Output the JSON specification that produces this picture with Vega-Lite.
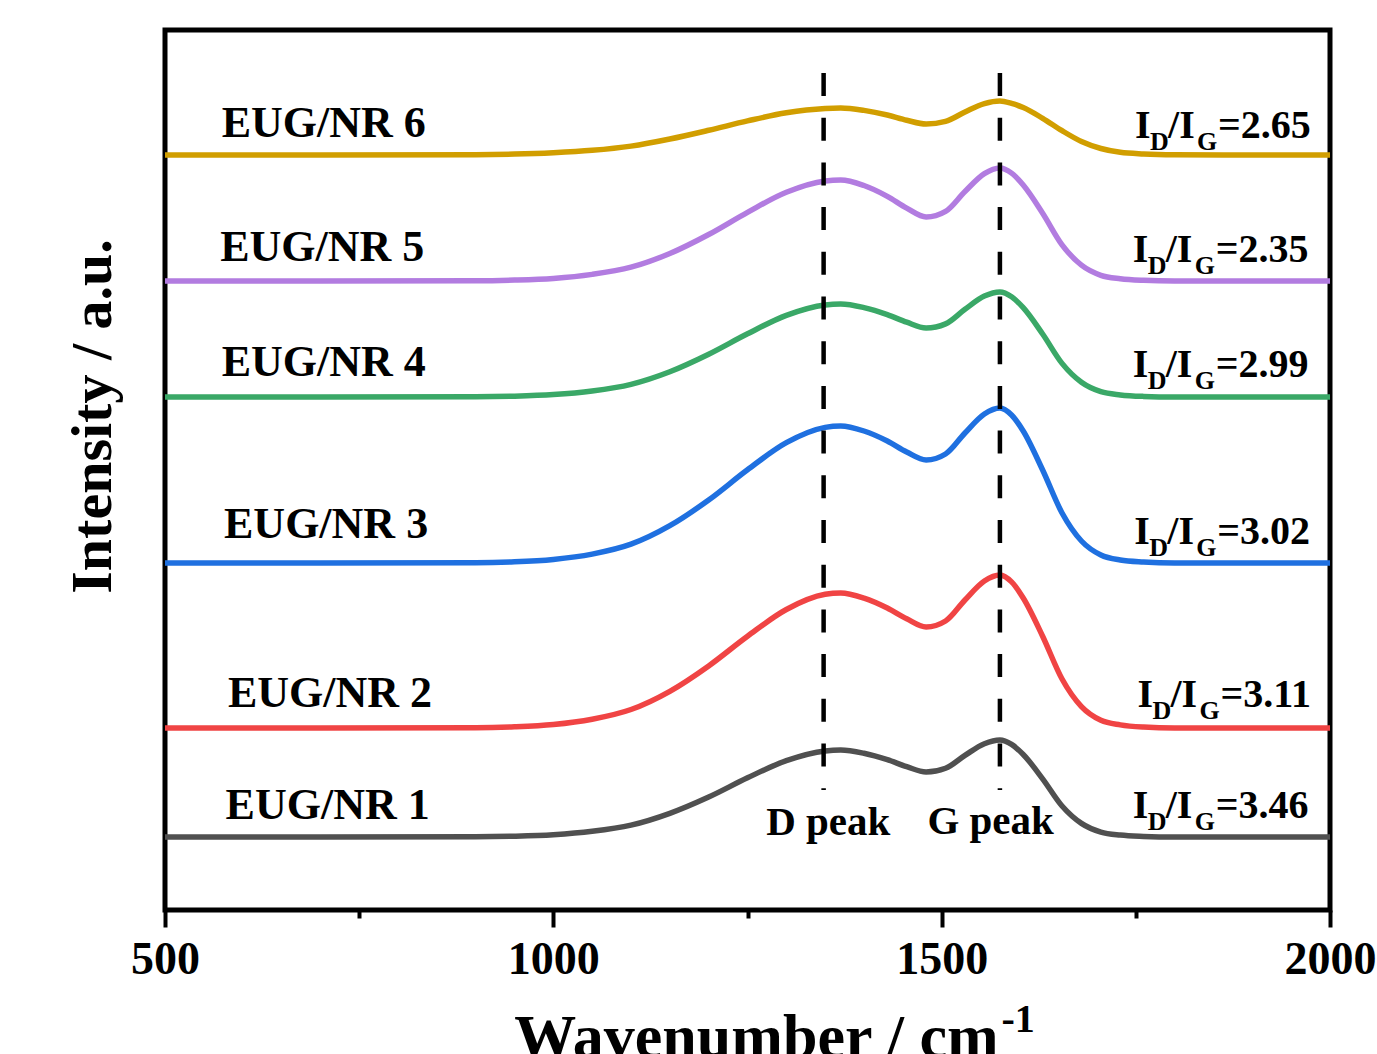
{
  "$schema": "https://vega.github.io/schema/vega-lite/v6.json",
  "width": 1165,
  "height": 880,
  "autosize": {"type": "none"},
  "padding": {"left": 165, "top": 30, "right": 47, "bottom": 144},
  "background": "white",
  "datasets": {
    "spectra": [
      {"s":"EUG/NR 1","w":500,"v":74},{"s":"EUG/NR 1","w":700,"v":74},{"s":"EUG/NR 1","w":900,"v":74.2},{"s":"EUG/NR 1","w":950,"v":74.8},{"s":"EUG/NR 1","w":1000,"v":76.3},{"s":"EUG/NR 1","w":1050,"v":79.7},{"s":"EUG/NR 1","w":1100,"v":85.9},{"s":"EUG/NR 1","w":1150,"v":97.7},{"s":"EUG/NR 1","w":1200,"v":114},{"s":"EUG/NR 1","w":1250,"v":133.2},{"s":"EUG/NR 1","w":1300,"v":150.4},{"s":"EUG/NR 1","w":1350,"v":160.1},{"s":"EUG/NR 1","w":1370,"v":161},{"s":"EUG/NR 1","w":1400,"v":157.7},{"s":"EUG/NR 1","w":1430,"v":151.3},{"s":"EUG/NR 1","w":1455,"v":144.3},{"s":"EUG/NR 1","w":1480,"v":139},{"s":"EUG/NR 1","w":1505,"v":142.7},{"s":"EUG/NR 1","w":1530,"v":155.6},{"s":"EUG/NR 1","w":1555,"v":167.3},{"s":"EUG/NR 1","w":1575,"v":171},{"s":"EUG/NR 1","w":1590,"v":166.6},{"s":"EUG/NR 1","w":1605,"v":156.5},{"s":"EUG/NR 1","w":1630,"v":132.2},{"s":"EUG/NR 1","w":1655,"v":105},{"s":"EUG/NR 1","w":1680,"v":87.6},{"s":"EUG/NR 1","w":1705,"v":78.9},{"s":"EUG/NR 1","w":1730,"v":75.9},{"s":"EUG/NR 1","w":1760,"v":74.6},{"s":"EUG/NR 1","w":1800,"v":74},{"s":"EUG/NR 1","w":1900,"v":74},{"s":"EUG/NR 1","w":2000,"v":74},
      {"s":"EUG/NR 2","w":500,"v":183},{"s":"EUG/NR 2","w":700,"v":183},{"s":"EUG/NR 2","w":900,"v":183.3},{"s":"EUG/NR 2","w":950,"v":184.2},{"s":"EUG/NR 2","w":1000,"v":186.5},{"s":"EUG/NR 2","w":1050,"v":191.8},{"s":"EUG/NR 2","w":1100,"v":201.5},{"s":"EUG/NR 2","w":1150,"v":219.7},{"s":"EUG/NR 2","w":1200,"v":245.1},{"s":"EUG/NR 2","w":1250,"v":274.8},{"s":"EUG/NR 2","w":1300,"v":301.5},{"s":"EUG/NR 2","w":1350,"v":316.7},{"s":"EUG/NR 2","w":1370,"v":318},{"s":"EUG/NR 2","w":1400,"v":312.9},{"s":"EUG/NR 2","w":1430,"v":303},{"s":"EUG/NR 2","w":1455,"v":292.2},{"s":"EUG/NR 2","w":1480,"v":284},{"s":"EUG/NR 2","w":1505,"v":290},{"s":"EUG/NR 2","w":1530,"v":311},{"s":"EUG/NR 2","w":1555,"v":330},{"s":"EUG/NR 2","w":1575,"v":336},{"s":"EUG/NR 2","w":1590,"v":329.1},{"s":"EUG/NR 2","w":1605,"v":313},{"s":"EUG/NR 2","w":1630,"v":274.8},{"s":"EUG/NR 2","w":1655,"v":232},{"s":"EUG/NR 2","w":1680,"v":204.4},{"s":"EUG/NR 2","w":1705,"v":190.7},{"s":"EUG/NR 2","w":1730,"v":186.1},{"s":"EUG/NR 2","w":1760,"v":183.9},{"s":"EUG/NR 2","w":1800,"v":183},{"s":"EUG/NR 2","w":1900,"v":183},{"s":"EUG/NR 2","w":2000,"v":183},
      {"s":"EUG/NR 3","w":500,"v":348},{"s":"EUG/NR 3","w":700,"v":348},{"s":"EUG/NR 3","w":900,"v":348.3},{"s":"EUG/NR 3","w":950,"v":349.2},{"s":"EUG/NR 3","w":1000,"v":351.6},{"s":"EUG/NR 3","w":1050,"v":356.9},{"s":"EUG/NR 3","w":1100,"v":366.8},{"s":"EUG/NR 3","w":1150,"v":385.3},{"s":"EUG/NR 3","w":1200,"v":411},{"s":"EUG/NR 3","w":1250,"v":441.2},{"s":"EUG/NR 3","w":1300,"v":468.3},{"s":"EUG/NR 3","w":1350,"v":483.6},{"s":"EUG/NR 3","w":1370,"v":485},{"s":"EUG/NR 3","w":1400,"v":480},{"s":"EUG/NR 3","w":1430,"v":470},{"s":"EUG/NR 3","w":1455,"v":459},{"s":"EUG/NR 3","w":1480,"v":451},{"s":"EUG/NR 3","w":1505,"v":457},{"s":"EUG/NR 3","w":1530,"v":478},{"s":"EUG/NR 3","w":1555,"v":497},{"s":"EUG/NR 3","w":1575,"v":503},{"s":"EUG/NR 3","w":1590,"v":496},{"s":"EUG/NR 3","w":1605,"v":480},{"s":"EUG/NR 3","w":1630,"v":441},{"s":"EUG/NR 3","w":1655,"v":398},{"s":"EUG/NR 3","w":1680,"v":370},{"s":"EUG/NR 3","w":1705,"v":356},{"s":"EUG/NR 3","w":1730,"v":351},{"s":"EUG/NR 3","w":1760,"v":349},{"s":"EUG/NR 3","w":1800,"v":348},{"s":"EUG/NR 3","w":1900,"v":348},{"s":"EUG/NR 3","w":2000,"v":348},
      {"s":"EUG/NR 4","w":500,"v":514},{"s":"EUG/NR 4","w":700,"v":514},{"s":"EUG/NR 4","w":900,"v":514.2},{"s":"EUG/NR 4","w":950,"v":514.8},{"s":"EUG/NR 4","w":1000,"v":516.4},{"s":"EUG/NR 4","w":1050,"v":520},{"s":"EUG/NR 4","w":1100,"v":526.7},{"s":"EUG/NR 4","w":1150,"v":539.3},{"s":"EUG/NR 4","w":1200,"v":556.8},{"s":"EUG/NR 4","w":1250,"v":577.2},{"s":"EUG/NR 4","w":1300,"v":595.7},{"s":"EUG/NR 4","w":1350,"v":606.1},{"s":"EUG/NR 4","w":1370,"v":607},{"s":"EUG/NR 4","w":1400,"v":603.4},{"s":"EUG/NR 4","w":1430,"v":596.4},{"s":"EUG/NR 4","w":1455,"v":588.8},{"s":"EUG/NR 4","w":1480,"v":583},{"s":"EUG/NR 4","w":1505,"v":587.1},{"s":"EUG/NR 4","w":1530,"v":601.7},{"s":"EUG/NR 4","w":1555,"v":614.9},{"s":"EUG/NR 4","w":1575,"v":619},{"s":"EUG/NR 4","w":1590,"v":614.3},{"s":"EUG/NR 4","w":1605,"v":603.3},{"s":"EUG/NR 4","w":1630,"v":577},{"s":"EUG/NR 4","w":1655,"v":547.6},{"s":"EUG/NR 4","w":1680,"v":528.7},{"s":"EUG/NR 4","w":1705,"v":519.3},{"s":"EUG/NR 4","w":1730,"v":516.1},{"s":"EUG/NR 4","w":1760,"v":514.6},{"s":"EUG/NR 4","w":1800,"v":514},{"s":"EUG/NR 4","w":1900,"v":514},{"s":"EUG/NR 4","w":2000,"v":514},
      {"s":"EUG/NR 5","w":500,"v":630},{"s":"EUG/NR 5","w":700,"v":630},{"s":"EUG/NR 5","w":900,"v":630.2},{"s":"EUG/NR 5","w":950,"v":630.9},{"s":"EUG/NR 5","w":1000,"v":632.6},{"s":"EUG/NR 5","w":1050,"v":636.6},{"s":"EUG/NR 5","w":1100,"v":643.8},{"s":"EUG/NR 5","w":1150,"v":657.5},{"s":"EUG/NR 5","w":1200,"v":676.5},{"s":"EUG/NR 5","w":1250,"v":698.7},{"s":"EUG/NR 5","w":1300,"v":718.7},{"s":"EUG/NR 5","w":1350,"v":730},{"s":"EUG/NR 5","w":1370,"v":731},{"s":"EUG/NR 5","w":1400,"v":725.5},{"s":"EUG/NR 5","w":1430,"v":714.7},{"s":"EUG/NR 5","w":1455,"v":702.9},{"s":"EUG/NR 5","w":1480,"v":694},{"s":"EUG/NR 5","w":1505,"v":699.6},{"s":"EUG/NR 5","w":1530,"v":719.5},{"s":"EUG/NR 5","w":1555,"v":737.4},{"s":"EUG/NR 5","w":1575,"v":743},{"s":"EUG/NR 5","w":1590,"v":737.9},{"s":"EUG/NR 5","w":1605,"v":726},{"s":"EUG/NR 5","w":1630,"v":697.8},{"s":"EUG/NR 5","w":1655,"v":666.2},{"s":"EUG/NR 5","w":1680,"v":645.8},{"s":"EUG/NR 5","w":1705,"v":635.7},{"s":"EUG/NR 5","w":1730,"v":632.3},{"s":"EUG/NR 5","w":1760,"v":630.7},{"s":"EUG/NR 5","w":1800,"v":630},{"s":"EUG/NR 5","w":1900,"v":630},{"s":"EUG/NR 5","w":2000,"v":630},
      {"s":"EUG/NR 6","w":500,"v":756},{"s":"EUG/NR 6","w":700,"v":756},{"s":"EUG/NR 6","w":900,"v":756.3},{"s":"EUG/NR 6","w":950,"v":756.9},{"s":"EUG/NR 6","w":1000,"v":758.3},{"s":"EUG/NR 6","w":1050,"v":760.7},{"s":"EUG/NR 6","w":1100,"v":764.9},{"s":"EUG/NR 6","w":1150,"v":772},{"s":"EUG/NR 6","w":1200,"v":780.7},{"s":"EUG/NR 6","w":1250,"v":790.1},{"s":"EUG/NR 6","w":1300,"v":798.2},{"s":"EUG/NR 6","w":1350,"v":802.5},{"s":"EUG/NR 6","w":1370,"v":803},{"s":"EUG/NR 6","w":1400,"v":800.6},{"s":"EUG/NR 6","w":1430,"v":796},{"s":"EUG/NR 6","w":1455,"v":790.8},{"s":"EUG/NR 6","w":1480,"v":787},{"s":"EUG/NR 6","w":1505,"v":789.6},{"s":"EUG/NR 6","w":1530,"v":799},{"s":"EUG/NR 6","w":1555,"v":807.4},{"s":"EUG/NR 6","w":1575,"v":810},{"s":"EUG/NR 6","w":1590,"v":807.6},{"s":"EUG/NR 6","w":1605,"v":803.5},{"s":"EUG/NR 6","w":1630,"v":792.7},{"s":"EUG/NR 6","w":1655,"v":780.3},{"s":"EUG/NR 6","w":1680,"v":769.5},{"s":"EUG/NR 6","w":1705,"v":762.5},{"s":"EUG/NR 6","w":1730,"v":758.7},{"s":"EUG/NR 6","w":1760,"v":757.1},{"s":"EUG/NR 6","w":1800,"v":756.3},{"s":"EUG/NR 6","w":1900,"v":756},{"s":"EUG/NR 6","w":2000,"v":756}
    ],
    "names": [
      {"t":"EUG/NR 6","w":573,"v":774},
      {"t":"EUG/NR 5","w":571,"v":650},
      {"t":"EUG/NR 4","w":573,"v":535},
      {"t":"EUG/NR 3","w":576,"v":373},
      {"t":"EUG/NR 2","w":581,"v":204},
      {"t":"EUG/NR 1","w":578,"v":92}
    ],
    "ratios": [
      {"r":"=2.65","w":1749,"v":773},
      {"r":"=2.35","w":1746,"v":649},
      {"r":"=2.99","w":1746,"v":534},
      {"r":"=3.02","w":1748,"v":367},
      {"r":"=3.11","w":1752,"v":204},
      {"r":"=3.46","w":1746,"v":93}
    ],
    "peaks": [
      {"t":"D peak","w":1354,"v":76},
      {"t":"G peak","w":1563,"v":77}
    ],
    "dashes": [
      {"w":1348,"top":838,"bot":121},
      {"w":1575,"top":838,"bot":121}
    ],
    "sup": [
      {"t":"-1","w":1577,"v":-121}
    ]
  },
  "layer": [
    {
      "data": {"name": "spectra"},
      "mark": {"type": "line", "strokeWidth": 5.5, "interpolate": "monotone", "clip": false},
      "encoding": {
        "x": {
          "field": "w", "type": "quantitative",
          "scale": {"domain": [500, 2000], "nice": false, "zero": false},
          "axis": {
            "values": [500, 750, 1000, 1250, 1500, 1750, 2000],
            "format": "d",
            "labelExpr": "datum.value % 500 === 0 ? datum.label : ''",
            "domain": false, "grid": false,
            "tickColor": "black", "tickWidth": 4,
            "tickSize": {"condition": {"test": "datum.value % 500 === 0", "value": 17}, "value": 8},
            "labelFont": "Liberation Serif", "labelFontWeight": "bold", "labelFontSize": 46, "labelColor": "black",
            "labelPadding": 10, "labelFlush": false, "labelOverlap": false,
            "title": "Wavenumber / cm",
            "titleFont": "Liberation Serif", "titleFontWeight": "bold", "titleFontSize": 62, "titleColor": "black",
            "titleX": 591, "titleY": 146, "titleBaseline": "alphabetic", "titleAlign": "center"
          }
        },
        "y": {
          "field": "v", "type": "quantitative",
          "scale": {"domain": [1, 881], "nice": false, "zero": false},
          "axis": {
            "title": "Intensity / a.u.",
            "ticks": false, "labels": false, "domain": false, "grid": false,
            "titleFont": "Liberation Serif", "titleFontWeight": "bold", "titleFontSize": 58, "titleColor": "black",
            "titleAngle": 270, "titleX": -55, "titleY": 386, "titleBaseline": "alphabetic", "titleAlign": "center"
          }
        },
        "color": {
          "field": "s", "type": "nominal", "legend": null,
          "scale": {
            "domain": ["EUG/NR 1", "EUG/NR 2", "EUG/NR 3", "EUG/NR 4", "EUG/NR 5", "EUG/NR 6"],
            "range": ["#505050", "#f04444", "#1f70e0", "#3aa867", "#b27ce0", "#d19e00"]
          }
        },
        "detail": {"field": "s"}
      }
    },
    {
      "data": {"name": "dashes"},
      "mark": {"type": "rule", "color": "black", "strokeWidth": 4.5, "strokeDash": [23, 21.7]},
      "encoding": {
        "x": {"field": "w", "type": "quantitative"},
        "y": {"field": "top", "type": "quantitative"},
        "y2": {"field": "bot"}
      }
    },
    {
      "data": {"name": "names"},
      "mark": {"type": "text", "align": "left", "baseline": "alphabetic", "font": "Liberation Serif", "fontWeight": "bold", "fontSize": 44, "color": "black"},
      "encoding": {
        "x": {"field": "w", "type": "quantitative"},
        "y": {"field": "v", "type": "quantitative"},
        "text": {"field": "t"}
      }
    },
    {
      "data": {"name": "ratios"},
      "mark": {"type": "text", "align": "left", "baseline": "alphabetic", "font": "Liberation Serif", "fontWeight": "bold", "fontSize": 40, "color": "black", "text": "I"},
      "encoding": {
        "x": {"field": "w", "type": "quantitative"},
        "y": {"field": "v", "type": "quantitative"}
      }
    },
    {
      "data": {"name": "ratios"},
      "mark": {"type": "text", "align": "left", "baseline": "alphabetic", "font": "Liberation Serif", "fontWeight": "bold", "fontSize": 26, "color": "black", "text": "D", "dx": 15, "dy": 12},
      "encoding": {
        "x": {"field": "w", "type": "quantitative"},
        "y": {"field": "v", "type": "quantitative"}
      }
    },
    {
      "data": {"name": "ratios"},
      "mark": {"type": "text", "align": "left", "baseline": "alphabetic", "font": "Liberation Serif", "fontWeight": "bold", "fontSize": 40, "color": "black", "text": "/I", "dx": 33},
      "encoding": {
        "x": {"field": "w", "type": "quantitative"},
        "y": {"field": "v", "type": "quantitative"}
      }
    },
    {
      "data": {"name": "ratios"},
      "mark": {"type": "text", "align": "left", "baseline": "alphabetic", "font": "Liberation Serif", "fontWeight": "bold", "fontSize": 26, "color": "black", "text": "G", "dx": 62, "dy": 12},
      "encoding": {
        "x": {"field": "w", "type": "quantitative"},
        "y": {"field": "v", "type": "quantitative"}
      }
    },
    {
      "data": {"name": "ratios"},
      "mark": {"type": "text", "align": "left", "baseline": "alphabetic", "font": "Liberation Serif", "fontWeight": "bold", "fontSize": 40, "color": "black", "dx": 83},
      "encoding": {
        "x": {"field": "w", "type": "quantitative"},
        "y": {"field": "v", "type": "quantitative"},
        "text": {"field": "r"}
      }
    },
    {
      "data": {"name": "peaks"},
      "mark": {"type": "text", "align": "center", "baseline": "alphabetic", "font": "Liberation Serif", "fontWeight": "bold", "fontSize": 41, "color": "black"},
      "encoding": {
        "x": {"field": "w", "type": "quantitative"},
        "y": {"field": "v", "type": "quantitative"},
        "text": {"field": "t"}
      }
    },
    {
      "data": {"name": "sup"},
      "mark": {"type": "text", "align": "left", "baseline": "alphabetic", "font": "Liberation Serif", "fontWeight": "bold", "fontSize": 40, "color": "black"},
      "encoding": {
        "x": {"field": "w", "type": "quantitative"},
        "y": {"field": "v", "type": "quantitative"},
        "text": {"field": "t"}
      }
    }
  ],
  "config": {
    "view": {"stroke": "black", "strokeWidth": 5}
  }
}
